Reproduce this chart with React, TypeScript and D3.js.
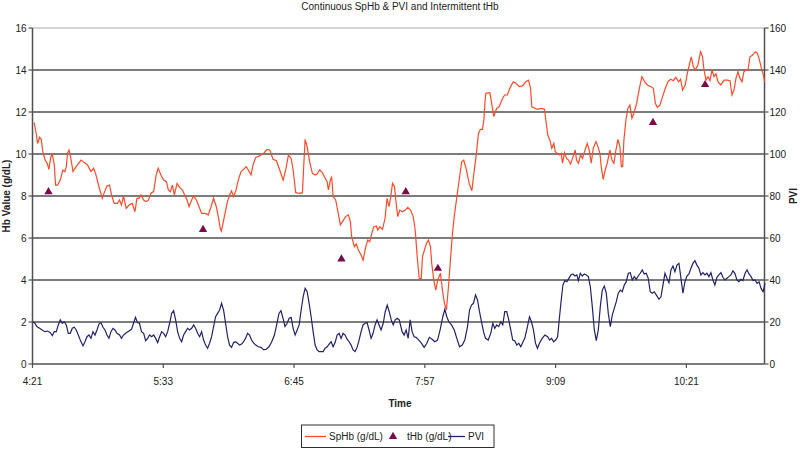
import React from "react";
import * as d3 from "d3";

// time in minutes after 4:21, value in g/dL
const sphbTime = [0.9,2.0,2.8,3.9,4.8,5.7,6.8,8.3,9.0,10.1,10.9,12.0,12.7,13.8,15.3,16.7,17.8,18.6,19.3,20.1,20.8,22.3,23.4,24.8,26.7,28.5,30.3,32.2,33.6,34.7,36.6,38.4,39.5,41.0,42.4,43.5,45.0,46.8,47.9,49.0,50.1,51.6,53.1,54.9,56.4,57.5,58.6,59.7,61.2,62.3,63.7,65.2,66.7,68.1,69.2,70.7,72.2,73.7,74.8,75.9,77.0,78.1,79.6,81.0,82.5,83.6,85.1,86.2,87.6,88.7,90.2,91.7,93.1,95.0,96.8,98.3,99.7,101.2,102.3,103.4,104.0,106.0,107.1,108.5,109.6,110.7,111.8,113.3,114.8,116.2,117.7,118.8,120.3,121.4,122.9,124.7,126.2,127.6,129.1,130.6,132.4,134.3,136.1,138.0,139.4,140.9,142.4,143.5,144.9,146.8,148.6,149.3,150.1,151.2,152.6,154.1,155.6,156.7,158.1,159.6,160.7,162.2,162.9,164.0,164.7,165.5,166.9,168.0,169.5,171.0,172.4,173.9,175.0,175.7,177.2,178.3,179.4,180.9,182.0,183.5,184.6,185.7,186.8,187.9,189.3,190.1,191.2,192.7,194.1,195.2,196.3,197.1,198.2,199.3,200.0,201.1,202.2,203.7,205.2,206.6,208.1,209.6,210.7,211.8,212.9,214.0,214.7,215.8,216.9,218.0,219.1,219.8,220.9,222.0,223.1,224.6,225.7,226.8,227.9,229.0,230.1,231.2,232.3,233.4,234.9,236.3,237.4,238.9,240.4,241.9,243.0,244.4,245.5,246.6,247.7,248.5,249.2,249.6,251.8,252.5,254.0,255.5,256.9,258.4,259.9,261.4,263.2,264.7,266.1,268.0,269.8,271.6,273.1,274.2,274.9,277.9,280.1,281.9,282.6,283.7,284.8,285.9,287.0,287.8,288.9,290.0,291.1,291.8,292.9,294.0,295.1,296.2,297.3,298.8,299.5,300.6,301.7,302.8,303.9,305.4,306.5,307.6,308.7,310.2,311.3,312.4,313.1,314.2,315.3,316.4,317.9,319.0,320.1,321.2,322.3,323.4,324.2,324.9,325.6,326.7,327.8,328.9,330.0,331.1,332.6,334.1,335.5,337.0,338.5,340.3,341.8,342.9,344.0,345.4,346.9,348.4,349.8,351.3,352.8,354.2,355.7,356.8,357.9,359.4,360.5,361.6,362.7,363.8,364.9,366.3,367.8,368.9,369.7,370.8,371.9,373.0,374.1,375.2,376.3,377.4,378.9,380.7,382.5,384.0,385.1,386.2,387.3,388.4,389.5,390.6,391.7,392.8,393.9,395.0,396.5,398.0,399.1,400.2,401.3,402.4,403.1];
const sphbValue = [11.5,11.0,10.5,10.8,10.7,10.1,9.75,9.5,9.27,9.87,9.98,9.48,8.52,8.52,8.76,9.24,9.16,9.4,10.03,10.19,9.95,9.16,9.32,9.48,9.71,9.59,9.48,9.16,9.32,9.08,8.44,7.89,8.16,8.48,8.52,8.05,7.65,7.65,7.81,7.57,8.0,7.41,7.57,7.65,7.25,7.89,7.89,8.05,7.81,7.73,7.78,8.13,8.21,9.0,9.32,9.0,8.76,8.68,8.29,8.21,8.52,8.05,8.6,8.41,8.29,8.08,7.81,7.49,7.81,8.0,7.81,7.49,7.17,7.17,7.1,7.49,7.89,7.49,7.01,6.46,6.33,7.17,7.65,8.05,8.25,7.97,8.21,8.76,9.16,9.27,9.4,9.24,9.0,9.48,9.84,9.9,9.98,10.06,10.22,10.19,9.75,9.68,9.24,8.76,9.24,9.95,9.79,9.24,8.16,8.13,8.16,9.4,10.7,10.35,9.63,9.08,9.0,9.05,9.24,9.11,8.92,8.68,8.29,8.76,8.89,7.97,7.81,7.33,6.62,6.83,7.02,7.1,6.78,6.06,5.59,5.71,5.43,5.19,4.95,5.59,5.9,5.82,6.22,6.54,6.57,6.38,6.54,6.41,6.94,7.89,7.49,7.89,8.6,8.44,7.81,7.02,7.33,7.25,7.33,7.46,7.33,7.02,6.38,5.11,4.08,4.03,5.11,5.43,5.75,5.9,5.59,4.79,4.0,3.52,4.0,4.32,3.52,2.89,2.57,3.68,4.95,6.22,7.1,7.81,8.76,9.63,9.71,9.24,8.6,8.25,9.08,10.03,10.98,11.17,11.17,11.62,12.57,12.89,12.92,12.57,11.78,12.17,12.25,12.57,12.81,12.81,13.21,13.44,13.37,13.21,13.24,13.44,13.52,13.13,12.25,12.13,12.17,12.13,11.62,10.9,10.67,10.27,10.5,10.11,10.03,9.95,10.03,9.56,10.06,9.79,9.71,9.52,9.79,10.19,9.71,9.56,9.95,9.79,10.11,10.5,10.19,9.56,10.27,10.59,10.35,10.03,9.4,8.79,9.24,9.56,10.19,9.71,9.56,10.19,10.7,10.35,9.4,9.4,10.67,11.62,12.17,12.33,11.7,11.94,12.41,13.13,13.68,13.44,13.29,13.21,13.13,12.41,12.22,12.33,12.73,13.13,13.44,13.56,13.49,13.65,13.44,13.56,13.05,13.29,13.84,14.24,14.63,14.16,14.0,14.24,14.87,14.63,14.0,13.52,13.68,13.49,14.0,13.68,13.81,13.44,13.29,13.52,13.52,13.49,12.81,13.05,13.6,13.92,13.6,13.44,13.92,14.0,14.0,14.63,14.71,14.87,14.79,14.48,14.08,13.76,13.44];

const thbTime = [8.8, 93.9, 170.1, 205.5, 223.2, 341.6, 370.3];
const thbValue = [8.2, 6.4, 5.0, 8.2, 4.55, 11.5, 13.3];

const pviTime = [0.2,1.3,2.4,3.9,5.3,6.8,8.3,9.8,10.9,12.0,13.1,14.2,15.3,16.4,17.5,18.6,19.7,20.8,21.9,23.0,24.1,25.2,26.3,27.8,28.9,30.0,31.1,32.2,33.3,34.4,35.5,36.6,37.7,38.8,39.9,41.0,42.1,43.2,44.3,45.4,46.5,47.9,49.0,50.1,51.6,53.1,54.5,55.6,56.7,57.8,58.9,60.0,61.2,62.3,63.4,64.5,65.6,66.7,67.8,68.9,70.0,71.1,72.2,73.3,74.4,75.5,76.6,77.7,78.8,79.9,81.0,82.1,83.2,84.3,85.4,86.5,87.6,88.7,89.8,90.9,92.0,93.1,94.2,95.3,96.4,97.5,98.6,99.7,100.8,101.9,103.0,104.1,105.2,106.3,107.4,108.5,109.6,110.7,111.8,112.9,114.0,115.1,116.2,117.3,118.4,119.5,120.6,121.8,122.9,124.3,125.8,127.3,128.7,130.2,131.7,133.2,134.6,135.7,136.8,137.9,139.0,140.2,141.3,142.4,143.5,144.6,145.7,146.8,147.9,149.0,150.1,151.2,152.3,153.4,154.5,155.6,156.7,157.8,158.9,160.0,161.1,162.2,163.3,164.4,165.5,166.6,167.7,168.8,169.9,171.0,172.1,173.2,174.3,175.4,176.5,177.6,178.7,179.8,180.9,182.0,183.1,184.2,185.3,186.4,187.5,188.6,189.7,190.8,191.9,193.1,194.2,195.3,196.4,197.5,198.6,199.7,200.8,201.9,203.5,204.6,205.7,206.8,207.9,209.0,210.1,211.2,212.7,214.1,215.6,217.1,218.5,220.0,221.5,223.0,224.4,225.9,227.0,228.1,229.2,230.7,232.2,233.6,235.1,236.6,238.0,239.5,240.6,241.7,242.8,243.9,245.0,246.1,247.2,248.3,249.4,250.9,252.3,253.4,254.5,255.6,256.7,257.8,258.9,260.0,261.1,262.2,263.3,264.4,265.5,266.6,267.7,268.8,269.9,271.0,272.5,273.6,274.7,275.8,276.9,278.0,279.1,280.6,282.1,283.6,284.7,285.8,286.9,288.0,289.1,289.8,290.9,292.0,293.1,294.2,295.3,296.4,297.5,298.6,299.7,300.5,301.6,302.7,303.8,304.9,306.0,307.1,308.2,309.3,310.4,311.5,312.6,313.7,314.8,315.9,317.0,318.1,319.2,320.3,321.4,322.5,323.6,324.7,325.8,326.9,328.0,329.1,330.2,331.3,332.4,333.5,334.6,335.7,336.8,337.9,339.0,340.1,341.2,342.3,343.4,344.9,346.0,347.1,348.2,349.3,350.4,351.5,352.6,353.7,354.8,355.9,357.0,358.1,359.2,360.3,361.4,362.5,363.6,364.7,365.8,366.9,368.0,369.1,370.2,371.3,372.4,373.5,374.6,375.7,376.8,377.9,379.0,380.1,381.2,382.3,383.4,384.5,385.6,386.7,387.8,388.9,390.0,391.1,392.3,393.4,394.5,395.6,396.7,397.8,398.9,400.0,401.1,402.2,403.3];
const pviValue = [20.1,19.4,17.8,17.0,16.2,15.4,15.7,14.9,13.5,15.4,15.4,18.6,21.0,19.4,20.1,18.6,14.6,14.6,17.0,17.5,16.2,13.8,11.4,8.6,10.6,13.0,13.8,12.2,15.4,13.8,16.2,19.0,19.7,17.5,16.2,13.8,12.2,15.4,17.0,16.2,14.6,13.8,12.2,13.8,14.9,15.7,16.5,19.4,22.2,19.7,19.4,15.4,14.6,11.1,12.2,13.8,13.0,13.8,12.2,10.2,13.0,15.4,14.6,13.0,15.4,19.4,24.1,25.4,21.0,15.4,12.2,10.6,13.8,15.4,17.0,16.2,17.0,18.6,17.0,14.6,13.0,15.4,11.4,9.0,7.5,9.9,13.0,17.8,22.5,24.1,25.7,28.9,25.7,19.4,13.0,9.0,7.9,10.2,10.6,9.9,9.0,9.5,10.6,12.2,14.6,13.8,11.4,9.9,9.0,8.2,7.9,6.7,7.0,8.2,10.6,13.8,19.4,24.1,25.4,21.8,17.8,19.4,21.8,22.2,17.0,13.8,16.2,18.6,25.7,32.0,36.0,34.4,28.9,22.5,15.4,9.0,6.7,5.9,5.9,5.9,7.5,8.2,9.5,10.6,8.2,10.2,13.8,14.6,12.2,14.6,13.8,11.8,10.6,9.0,6.7,5.9,7.9,11.4,15.4,18.6,19.4,19.7,16.2,12.2,14.6,18.6,21.0,18.6,16.2,19.4,24.9,28.1,24.9,21.0,18.6,21.0,21.8,21.0,15.4,13.8,16.2,12.2,21.0,15.4,13.0,12.7,11.4,9.9,7.9,9.9,12.7,11.8,10.6,11.4,16.2,22.5,26.0,22.5,20.1,18.6,16.2,12.2,8.2,9.0,11.4,17.8,25.7,28.1,28.9,32.9,30.5,24.9,20.1,15.4,12.2,11.4,14.6,19.4,17.0,18.6,17.8,20.1,18.6,24.9,24.9,21.0,16.2,11.4,11.1,9.0,9.9,8.2,10.2,12.2,17.8,22.5,20.1,16.2,9.9,7.5,9.9,12.2,13.8,13.0,11.4,12.2,10.6,11.4,13.0,19.4,28.9,37.6,39.7,39.2,40.8,42.4,42.9,41.9,42.4,39.7,43.2,41.9,42.9,42.4,41.6,36.8,27.3,16.2,11.1,16.2,27.3,35.2,37.1,33.7,24.1,17.8,23.3,26.5,29.7,33.7,35.2,34.4,37.6,39.2,43.2,43.5,40.0,41.6,40.3,41.9,43.2,44.8,42.9,43.2,40.8,34.4,33.7,34.4,32.9,30.8,32.0,37.6,43.2,40.8,38.7,44.8,46.7,43.9,47.1,47.9,40.8,33.7,39.2,41.9,42.9,45.6,47.9,49.2,47.1,45.6,42.4,43.5,42.4,43.2,41.6,43.5,40.0,37.6,41.3,42.4,43.5,41.3,40.0,40.8,41.6,42.4,44.4,43.2,40.0,39.2,40.3,39.7,43.2,44.8,42.9,41.6,39.7,40.0,38.4,39.2,36.0,34.4,38.4];

const xTickValues = [0, 72, 144, 216, 288, 360];
const xTickLabels = ["4:21", "5:33", "6:45", "7:57", "9:09", "10:21"];
const leftTicks = [0, 2, 4, 6, 8, 10, 12, 14, 16];
const rightTicks = [0, 20, 40, 60, 80, 100, 120, 140, 160];

const W = 800, H = 449;
const M = { left: 32.5, right: 764.5, top: 28, bottom: 364 };
const FONT = "'Liberation Sans', Arial, sans-serif";

export default function App() {
  const x = d3.scaleLinear().domain([0, 403]).range([M.left, M.right]);
  const yL = d3.scaleLinear().domain([0, 16]).range([M.bottom, M.top]);
  const yR = d3.scaleLinear().domain([0, 160]).range([M.bottom, M.top]);

  const sphb = sphbTime.map((t, i) => [t, sphbValue[i]] as [number, number]);
  const pvi = pviTime.map((t, i) => [t, pviValue[i]] as [number, number]);
  const lineL = d3.line<[number, number]>().x(d => x(d[0])).y(d => yL(d[1]));
  const lineR = d3.line<[number, number]>().x(d => x(d[0])).y(d => yR(d[1]));
  const tri = d3.symbol().type(d3.symbolTriangle).size(30)();

  const red = "#ff4a2a";
  const navy = "#22226a";
  const purple = "#7a0a4a";

  return (
    <svg width={W} height={H} style={{ position: "absolute", left: 0, top: 0, background: "#fff" }} fontFamily={FONT}>
      <rect width={W} height={H} fill="#fff" />
      <text x={400} y={9.5} textAnchor="middle" fontSize={10} fill="#222">Continuous SpHb &amp; PVI and Intermittent tHb</text>

      {/* gridlines */}
      {leftTicks.map(v => (
        <line key={"g" + v} x1={M.left} x2={M.right} y1={yL(v)} y2={yL(v)}
          stroke={v === 16 ? "#a8a8a8" : "#505050"} strokeWidth={v === 16 ? 1.2 : 1.5} />
      ))}
      {/* axes */}
      <line x1={M.left} x2={M.left} y1={M.top} y2={M.bottom} stroke="#505050" strokeWidth={1.5} />
      <line x1={M.right} x2={M.right} y1={M.top} y2={M.bottom} stroke="#505050" strokeWidth={1.5} />
      {leftTicks.map(v => (
        <g key={"lt" + v}>
          <line x1={M.left - 4} x2={M.left} y1={yL(v)} y2={yL(v)} stroke="#505050" strokeWidth={1.2} />
          <text x={26.5} y={yL(v) + 3.5} textAnchor="end" fontSize={10} fill="#222">{v}</text>
        </g>
      ))}
      {rightTicks.map(v => (
        <g key={"rt" + v}>
          <line x1={M.right} x2={M.right + 4} y1={yR(v)} y2={yR(v)} stroke="#505050" strokeWidth={1.2} />
          <text x={769.5} y={yR(v) + 3.5} textAnchor="start" fontSize={10} fill="#222">{v}</text>
        </g>
      ))}
      {xTickValues.map((v, i) => (
        <g key={"xt" + v}>
          <line x1={x(v)} x2={x(v)} y1={M.bottom} y2={M.bottom + 4} stroke="#505050" strokeWidth={1.2} />
          <text x={x(v)} y={385} textAnchor="middle" fontSize={10} fill="#222">{xTickLabels[i]}</text>
        </g>
      ))}

      <text x={400} y={407} textAnchor="middle" fontSize={10} fontWeight="bold" fill="#222">Time</text>
      <text transform={`translate(10,196) rotate(-90)`} textAnchor="middle" fontSize={10} fontWeight="bold" fill="#222">Hb Value (g/dL)</text>
      <text transform={`translate(797,196) rotate(-90)`} textAnchor="middle" fontSize={10} fontWeight="bold" fill="#222">PVI</text>

      {/* series */}
      <path d={lineR(pvi) || ""} fill="none" stroke={navy} strokeWidth={1.2} />
      <path d={lineL(sphb) || ""} fill="none" stroke={red} strokeWidth={1.2} />
      {thbTime.map((t, i) => (
        <path key={"tr" + i} d={tri || ""} transform={`translate(${x(t)},${yL(thbValue[i])})`} fill={purple} />
      ))}

      {/* legend */}
      <rect x={301.5} y={425} width={192.5} height={22.5} fill="#fff" stroke="#303030" strokeWidth={1} />
      <line x1={305} x2={326} y1={436.5} y2={436.5} stroke={red} strokeWidth={1.3} />
      <text x={329} y={440} fontSize={10} fill="#222">SpHb (g/dL)</text>
      <path d={tri || ""} transform={`translate(393,436.5)`} fill={purple} />
      <text x={407} y={440} fontSize={10} fill="#222">tHb (g/dL)</text>
      <line x1={448} x2={465} y1={436.5} y2={436.5} stroke={navy} strokeWidth={1.3} />
      <text x={468} y={440} fontSize={10} fill="#222">PVI</text>
    </svg>
  );
}
